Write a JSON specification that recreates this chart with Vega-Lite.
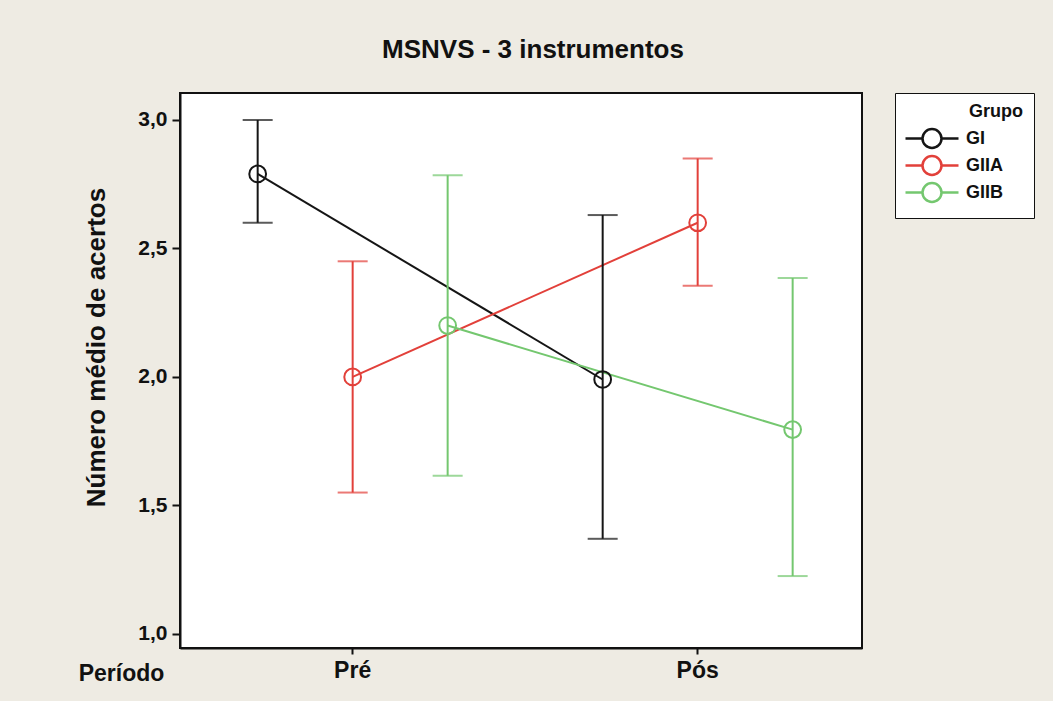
{
  "$schema": "https://vega.github.io/schema/vega-lite/v6.json",
  "width": 682,
  "height": 555,
  "autosize": {"type": "none"},
  "padding": {"left": 180, "top": 93, "right": 191, "bottom": 53},
  "background": "#eeebe3",
  "title": {
    "text": "MSNVS - 3 instrumentos",
    "font": "Liberation Sans",
    "fontSize": 26,
    "fontWeight": "bold",
    "color": "#111111",
    "anchor": "middle",
    "dx": 12,
    "offset": 30
  },
  "data": {
    "values": [
      {"grupo": "GI", "periodo": "Pré", "media": 2.79, "inferior": 2.6, "superior": 3.0},
      {"grupo": "GI", "periodo": "Pós", "media": 1.99, "inferior": 1.37, "superior": 2.63},
      {"grupo": "GIIA", "periodo": "Pré", "media": 2.0, "inferior": 1.55, "superior": 2.45},
      {"grupo": "GIIA", "periodo": "Pós", "media": 2.6, "inferior": 2.355, "superior": 2.85},
      {"grupo": "GIIB", "periodo": "Pré", "media": 2.2, "inferior": 1.615, "superior": 2.785},
      {"grupo": "GIIB", "periodo": "Pós", "media": 1.795, "inferior": 1.225, "superior": 2.385}
    ]
  },
  "encoding": {
    "x": {
      "field": "periodo",
      "type": "nominal",
      "sort": ["Pré", "Pós"],
      "scale": {"paddingInner": 0.174, "paddingOuter": 0.0754, "align": 0.58},
      "axis": {
        "title": "Período",
        "titleX": -59,
        "titleY": 25,
        "titleAlign": "center",
        "titleBaseline": "middle",
        "titleFont": "Liberation Sans",
        "titleFontSize": 23,
        "titleFontWeight": "bold",
        "titleColor": "#111111",
        "labelAngle": 0,
        "labelFont": "Liberation Sans",
        "labelFontSize": 23,
        "labelFontWeight": "bold",
        "labelColor": "#111111",
        "labelPadding": 5,
        "domainColor": "#111111",
        "domainWidth": 2,
        "tickColor": "#111111",
        "tickWidth": 2,
        "tickSize": 6
      }
    },
    "xOffset": {
      "field": "grupo",
      "type": "nominal",
      "sort": ["GI", "GIIA", "GIIB"],
      "scale": {"paddingInner": 0, "paddingOuter": 0}
    },
    "color": {
      "field": "grupo",
      "type": "nominal",
      "sort": ["GI", "GIIA", "GIIB"],
      "scale": {"domain": ["GI", "GIIA", "GIIB"], "range": ["#151515", "#e2403a", "#74c76f"]},
      "legend": {
        "title": "Grupo",
        "orient": "right",
        "offset": 33,
        "padding": 10,
        "strokeColor": "#111111",
        "fillColor": "#ffffff",
        "titleFont": "Liberation Sans",
        "titleFontSize": 18,
        "titleFontWeight": "bold",
        "titleColor": "#111111",
        "titleAnchor": "end",
        "titlePadding": 6,
        "labelFont": "Liberation Sans",
        "labelFontSize": 18,
        "labelFontWeight": "bold",
        "labelColor": "#111111",
        "labelOffset": 38,
        "labelExpr": "datum.label + '\u00a0\u00a0\u00a0\u00a0\u200b'",
        "symbolType": "M-1.1,0H0.6M2.5,0H4.2M0.6,0A0.95,0.95,0,1,1,2.5,0A0.95,0.95,0,1,1,0.6,0Z",
        "symbolSize": 400,
        "symbolStrokeWidth": 2.5,
        "symbolOpacity": 1,
        "symbolFillColor": "transparent",
        "rowPadding": -4,
        "encode": {
          "symbols": {
            "update": {
              "fill": {"value": "transparent"},
              "fillOpacity": {"value": 0},
              "opacity": {"value": 1}
            }
          }
        }
      }
    }
  },
  "layer": [
    {
      "mark": {"type": "line", "strokeWidth": 2},
      "encoding": {
        "y": {
          "field": "media",
          "type": "quantitative",
          "scale": {"domain": [0.945, 3.105], "nice": false, "zero": false},
          "axis": {
            "title": "Número médio de acertos",
            "titleFont": "Liberation Sans",
            "titleFontSize": 26,
            "titleFontWeight": "bold",
            "titleColor": "#111111",
            "titlePadding": 28,
            "titleY": 254,
            "titleAlign": "center",
            "values": [1.0, 1.5, 2.0, 2.5, 3.0],
            "labelExpr": "replace(format(datum.value, '.1f'), '.', ',')",
            "labelFont": "Liberation Sans",
            "labelFontSize": 21,
            "labelFontWeight": "bold",
            "labelColor": "#111111",
            "labelPadding": 5,
            "grid": false,
            "domainColor": "#111111",
            "domainWidth": 2,
            "tickColor": "#111111",
            "tickWidth": 2,
            "tickSize": 8
          }
        }
      }
    },
    {
      "mark": {"type": "rule", "strokeWidth": 2},
      "encoding": {
        "y": {"field": "inferior", "type": "quantitative"},
        "y2": {"field": "superior"}
      }
    },
    {
      "mark": {"type": "tick", "size": 30, "thickness": 2},
      "encoding": {"y": {"field": "inferior", "type": "quantitative"}}
    },
    {
      "mark": {"type": "tick", "size": 30, "thickness": 2},
      "encoding": {"y": {"field": "superior", "type": "quantitative"}}
    },
    {
      "mark": {"type": "point", "shape": "circle", "filled": false, "size": 280, "strokeWidth": 2, "fill": "#ffffff", "fillOpacity": 0},
      "encoding": {"y": {"field": "media", "type": "quantitative"}}
    }
  ],
  "config": {
    "view": {"stroke": "#111111", "strokeWidth": 2, "fill": "#ffffff"}
  }
}
